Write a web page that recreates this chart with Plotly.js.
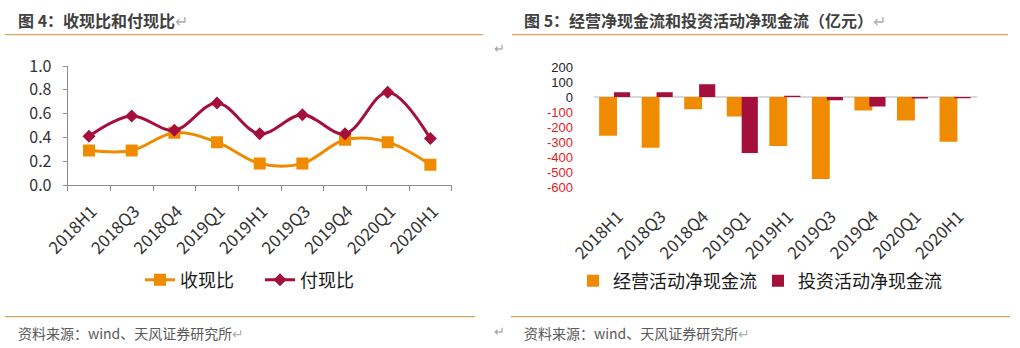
<!DOCTYPE html>
<html>
<head>
<meta charset="utf-8">
<script src="https://cdn.plot.ly/plotly-3.0.1.min.js"></script>
<style>html,body{margin:0;padding:0;background:#fff;}#chart{width:1020px;height:348px;}</style>
</head>
<body>
<div id="chart"></div>
<script>
// ---- data ----
const categories = ["2018H1","2018Q3","2018Q4","2019Q1","2019H1","2019Q3","2019Q4","2020Q1","2020H1"];
const shouXianBi = [0.29, 0.29, 0.44, 0.36, 0.18, 0.18, 0.38, 0.36, 0.17];   // 收现比
const fuXianBi   = [0.41, 0.58, 0.46, 0.69, 0.43, 0.59, 0.43, 0.78, 0.39];   // 付现比
const operatingCF = [-258, -339, -81, -130, -326, -546, -90, -157, -299];    // 经营活动净现金流
const investingCF = [31, 31, 85, -373, 8, -22, -63, -10, -8];                // 投资活动净现金流
const leftTickVals = [0, 0.2, 0.4, 0.6, 0.8, 1.0];
const rightTickVals = [200, 100, 0, -100, -200, -300, -400, -500, -600];
const rightTickText = rightTickVals.map(v => v < 0 ? '<span style="color:#e8201e">' + v + '</span>' : String(v));

const ORANGE = '#f08b00';
const RED = '#a50f3c';
const RULE = '#d9a35f';
const FONT = '"Noto Sans CJK SC", "Noto Sans", sans-serif';
const W = 1020, H = 348;
const px = x => x / W;
const py = y => 1 - y / H;

const traces = [
  {type:'scatter', mode:'lines+markers', name:'收现比', x:categories, y:shouXianBi,
   xaxis:'x', yaxis:'y', legend:'legend',
   line:{color:ORANGE, width:3, shape:'spline', smoothing:1},
   marker:{symbol:'square', size:12, color:ORANGE}},
  {type:'scatter', mode:'lines+markers', name:'付现比', x:categories, y:fuXianBi,
   xaxis:'x', yaxis:'y', legend:'legend',
   line:{color:RED, width:3, shape:'spline', smoothing:1},
   marker:{symbol:'diamond', size:10, color:RED}},
  {type:'bar', name:'经营活动净现金流', x:categories, y:operatingCF,
   xaxis:'x2', yaxis:'y2', legend:'legend2',
   marker:{color:ORANGE}, offset:-0.38, width:0.42},
  {type:'bar', name:'投资活动净现金流', x:categories, y:investingCF,
   xaxis:'x2', yaxis:'y2', legend:'legend2',
   marker:{color:RED}, offset:-0.03, width:0.38}
];

const tickFont = {family:FONT, size:17, color:'#333'};

const layout = {
  width:W, height:H,
  margin:{l:0, r:0, t:0, b:0},
  paper_bgcolor:'#fff', plot_bgcolor:'rgba(0,0,0,0)',
  barmode:'overlay',
  font:{family:FONT, color:'#222'},
  xaxis:{domain:[px(67.7), px(451.7)], anchor:'y', type:'category', range:[-0.5, 8.5],
    showline:true, linecolor:'#8c8c8c', linewidth:1, ticks:'outside', tickson:'boundaries',
    ticklen:5, tickcolor:'#8c8c8c', tickangle:-45, tickfont:tickFont, showgrid:false,
    ticklabelstandoff:9, ticklabelshift:3, fixedrange:true},
  yaxis:{domain:[py(185), py(66)], anchor:'x', range:[0, 1], tickvals:leftTickVals, tickformat:'.1f',
    showline:true, linecolor:'#8c8c8c', linewidth:1, ticks:'outside', ticklen:4, tickcolor:'#8c8c8c',
    showgrid:false, zeroline:false, tickfont:{family:FONT, size:16, color:'#333'}, ticklabelstandoff:8},
  xaxis2:{domain:[px(594), px(977)], anchor:'y2', type:'category', range:[-0.5, 8.5],
    showline:false, ticks:'', tickangle:-45, tickfont:tickFont, showgrid:false,
    ticklabelstandoff:8, ticklabelshift:3},
  yaxis2:{domain:[py(194.5), py(65.5)], anchor:'x2', range:[-650, 210],
    tickvals:rightTickVals, ticktext:rightTickText,
    showline:false, ticks:'', showgrid:false, zeroline:true, zerolinecolor:'#d9d9d9', zerolinewidth:2,
    tickfont:{family:'"Liberation Sans", Arial, sans-serif', size:13, color:'#222'}, ticklabelstandoff:20},
  legend:{orientation:'h', x:px(140), xanchor:'left', y:py(280), yanchor:'middle',
    font:{family:FONT, size:18, color:'#1a1a1a'}, bgcolor:'rgba(0,0,0,0)',
    entrywidth:75, entrywidthmode:'pixels', itemclick:false},
  legend2:{orientation:'h', x:px(573), xanchor:'left', y:py(281), yanchor:'middle',
    font:{family:FONT, size:18, color:'#1a1a1a'}, bgcolor:'rgba(0,0,0,0)',
    entrywidth:140, entrywidthmode:'pixels', itemclick:false},
  shapes:[
    {type:'line', xref:'paper', yref:'paper', x0:px(5), x1:px(483), y0:py(34.7), y1:py(34.7), line:{color:RULE, width:1.2}},
    {type:'line', xref:'paper', yref:'paper', x0:px(512), x1:px(1008), y0:py(34.7), y1:py(34.7), line:{color:RULE, width:1.2}},
    {type:'line', xref:'paper', yref:'paper', x0:px(5), x1:px(475), y0:py(316.7), y1:py(316.7), line:{color:RULE, width:1.2}},
    {type:'line', xref:'paper', yref:'paper', x0:px(511), x1:px(1010), y0:py(316.7), y1:py(316.7), line:{color:RULE, width:1.2}}
  ],
  annotations:[
    {xref:'paper', yref:'paper', x:px(16), y:py(20), xanchor:'left', yanchor:'middle', showarrow:false,
     text:'<b>图 4：收现比和付现比</b><span style="color:#b0b0b0">↵</span>', font:{family:FONT, size:16, color:'#404040'}},
    {xref:'paper', yref:'paper', x:px(522), y:py(20), xanchor:'left', yanchor:'middle', showarrow:false,
     text:'<b>图 5：经营净现金流和投资活动净现金流（亿元）</b><span style="color:#b0b0b0">↵</span>', font:{family:FONT, size:16, color:'#404040'}},
    {xref:'paper', yref:'paper', x:px(16), y:py(333), xanchor:'left', yanchor:'middle', showarrow:false,
     text:'资料来源：wind、天风证券研究所<span style="color:#b0b0b0">↵</span>', font:{family:FONT, size:14, color:'#595959'}},
    {xref:'paper', yref:'paper', x:px(522), y:py(333), xanchor:'left', yanchor:'middle', showarrow:false,
     text:'资料来源：wind、天风证券研究所<span style="color:#b0b0b0">↵</span>', font:{family:FONT, size:14, color:'#595959'}},
    {xref:'paper', yref:'paper', x:px(499), y:py(47), xanchor:'center', yanchor:'middle', showarrow:false,
     text:'↵', font:{family:FONT, size:13, color:'#a0a0a0'}},
    {xref:'paper', yref:'paper', x:px(499), y:py(330), xanchor:'center', yanchor:'middle', showarrow:false,
     text:'↵', font:{family:FONT, size:13, color:'#a0a0a0'}}
  ]
};

Plotly.newPlot('chart', traces, layout, {displayModeBar:false, staticPlot:true});
</script>
</body>
</html>
